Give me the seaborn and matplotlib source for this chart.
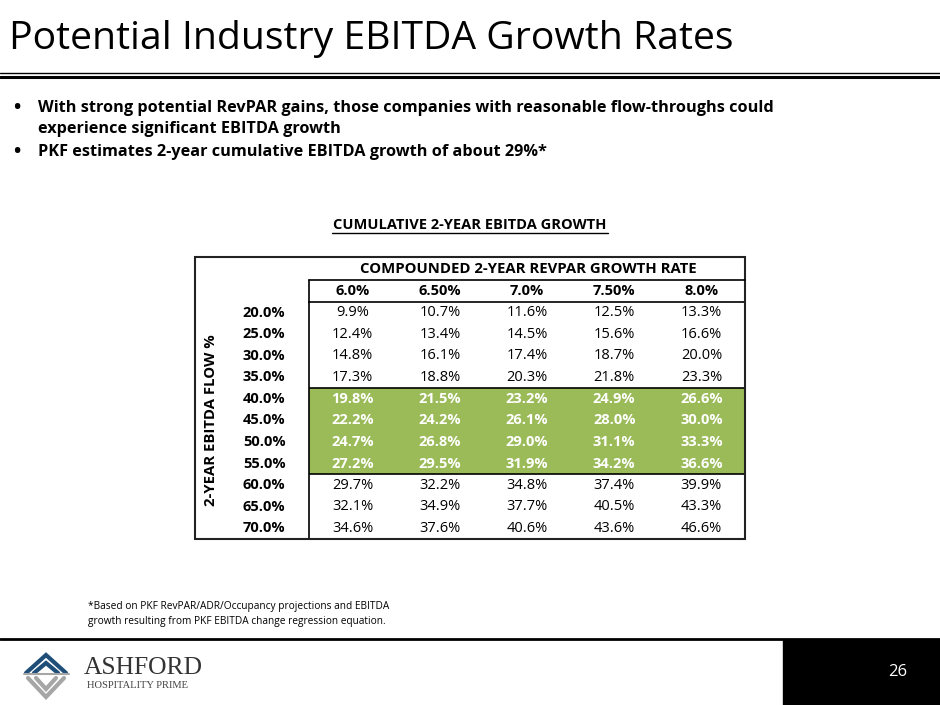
import matplotlib.pyplot as plt
import numpy as np
import pandas as pd
import seaborn as sns
from matplotlib.colors import ListedColormap
from matplotlib.lines import Line2D
from matplotlib.patches import Rectangle

# data
flow_rates = ["20.0%", "25.0%", "30.0%", "35.0%", "40.0%", "45.0%",
              "50.0%", "55.0%", "60.0%", "65.0%", "70.0%"]
revpar_rates = ["6.0%", "6.50%", "7.0%", "7.50%", "8.0%"]

growth_60 = [9.9, 12.4, 14.8, 17.3, 19.8, 22.2, 24.7, 27.2, 29.7, 32.1, 34.6]
growth_65 = [10.7, 13.4, 16.1, 18.8, 21.5, 24.2, 26.8, 29.5, 32.2, 34.9, 37.6]
growth_70 = [11.6, 14.5, 17.4, 20.3, 23.2, 26.1, 29.0, 31.9, 34.8, 37.7, 40.6]
growth_75 = [12.5, 15.6, 18.7, 21.8, 24.9, 28.0, 31.1, 34.2, 37.4, 40.5, 43.6]
growth_80 = [13.3, 16.6, 20.0, 23.3, 26.6, 30.0, 33.3, 36.6, 39.9, 43.3, 46.6]

highlight_rows = ["40.0%", "45.0%", "50.0%", "55.0%"]

title = "Potential Industry EBITDA Growth Rates"
bullets = [
    ["With strong potential RevPAR gains, those companies with reasonable flow-throughs could",
     "experience significant EBITDA growth"],
    ["PKF estimates 2-year cumulative EBITDA growth of about 29%*"],
]
footnote = ("*Based on PKF RevPAR/ADR/Occupancy projections and EBITDA\n"
            "growth resulting from PKF EBITDA change regression equation.")

GREEN = "#9BBB59"
W, H = 940, 705

sns.set_theme(style="white")
plt.rcParams["font.family"] = ["Open Sans", "DejaVu Sans"]
plt.rcParams["text.color"] = "black"


def fx(x):
    return x / W


def fy(y):
    return 1 - y / H


def hline(fig, x0, x1, y, lw, color="black"):
    fig.add_artist(Line2D([fx(x0), fx(x1)], [fy(y), fy(y)], lw=lw, color=color,
                          transform=fig.transFigure))


vals = pd.DataFrame(
    {c: g for c, g in zip(revpar_rates, [growth_60, growth_65, growth_70, growth_75, growth_80])},
    index=flow_rates,
)
labels = vals.map(lambda v: f"{v:.1f}%")
flags = pd.DataFrame(
    np.repeat(np.array([r in highlight_rows for r in flow_rates], dtype=float)[:, None],
              len(revpar_rates), axis=1),
    index=flow_rates, columns=revpar_rates,
)

fig = plt.figure(figsize=(W / 100, H / 100), dpi=100)

# header
fig.text(fx(9), fy(39), title, fontsize=28.2, va="center", ha="left")
hline(fig, 0, W, 72.5, 1.0)
hline(fig, 0, W, 76.5, 2.2)

line_y = [[108, 129], [152]]
for ys, lines in zip(line_y, bullets):
    fig.text(fx(17), fy(ys[0]), "\u2022", fontsize=14, weight="bold", va="center", ha="center")
    for y, s in zip(ys, lines):
        fig.text(fx(38), fy(y), s, fontsize=11.7, weight="bold", va="center")

# table
ax = fig.add_axes([fx(309), fy(539), (745 - 309) / W, (539 - 302) / H])
sns.heatmap(flags, cmap=ListedColormap(["white", GREEN]), vmin=0, vmax=1,
            annot=labels, fmt="", cbar=False, ax=ax,
            annot_kws={"fontsize": 10.5, "color": "black"})
cells = [(i, j) for i in range(len(flow_rates)) for j in range(len(revpar_rates))]
for t, (i, j) in zip(ax.texts, cells):
    if flow_rates[i] in highlight_rows:
        t.set_color("white")
        t.set_weight("bold")

ax.xaxis.tick_top()
ax.tick_params(axis="x", length=0, pad=3)
ax.tick_params(axis="y", length=0, pad=17)
ax.set_xticklabels(revpar_rates, fontsize=10.5, weight="bold", color="black")
ax.set_yticklabels(flow_rates, fontsize=10.5, weight="bold", color="black", rotation=0)
for s in ax.spines.values():
    s.set_visible(True)
    s.set_color("black")
    s.set_linewidth(1.2)
hi = [flow_rates.index(r) for r in highlight_rows]
ax.axhline(min(hi), color="black", lw=1.2)
ax.axhline(max(hi) + 1, color="black", lw=1.2)

# outer table frame and header rules
fig.add_artist(Rectangle((fx(195), fy(539)), (745 - 195) / W, (539 - 257) / H, fill=False,
                         lw=1.5, edgecolor="#222222", transform=fig.transFigure))
hline(fig, 309, 745, 280, 1.2)
fig.add_artist(Line2D([fx(309), fx(309)], [fy(280), fy(302)], lw=1.2, color="black",
                      transform=fig.transFigure))
fig.text(fx(528), fy(269), "COMPOUNDED 2-YEAR REVPAR GROWTH RATE", fontsize=10.7, weight="bold",
         ha="center", va="center")
fig.text(fx(211), fy(420), "2-YEAR EBITDA FLOW %", fontsize=10.7, weight="bold", rotation=90,
         ha="center", va="center")
fig.text(fx(470), fy(225), "CUMULATIVE 2-YEAR EBITDA GROWTH", fontsize=10.5, weight="bold",
         ha="center", va="center")
hline(fig, 332, 608, 232.5, 1.0)

# footnote
fig.text(fx(88), fy(614), footnote, fontsize=7.3, ha="left", va="center", linespacing=1.45)

# footer
hline(fig, 0, W, 639, 2.0)
fig.add_artist(Rectangle((fx(783), 0), 1 - fx(783), fy(640), color="black",
                         transform=fig.transFigure))
fig.text(fx(898), fy(672), "26", color="white", fontsize=12, ha="center", va="center")

blue, grey = "#1F4E79", "#A6A6A6"
for dy in [0, 8]:
    fig.add_artist(Line2D([fx(26 + dy), fx(46), fx(66 - dy)], [fy(673), fy(655 + dy), fy(673)],
                          lw=3, color=blue, transform=fig.transFigure, solid_joinstyle="miter"))
hline(fig, 24, 69, 674, 1.5, grey)
for dy in [0, 8]:
    fig.add_artist(Line2D([fx(28 + dy), fx(46), fx(64 - dy)], [fy(678), fy(697 - dy), fy(678)],
                          lw=3, color=grey, transform=fig.transFigure, solid_joinstyle="miter"))
serif = ["Liberation Serif", "DejaVu Serif"]
fig.text(fx(84), fy(668), "ASHFORD", family=serif, fontsize=18.4,
         color="#333333", ha="left", va="center")
fig.text(fx(87), fy(686), "HOSPITALITY PRIME", family=serif,
         fontsize=7.6, color="#444444", ha="left", va="center")

fig.savefig("out.png", dpi=100)
